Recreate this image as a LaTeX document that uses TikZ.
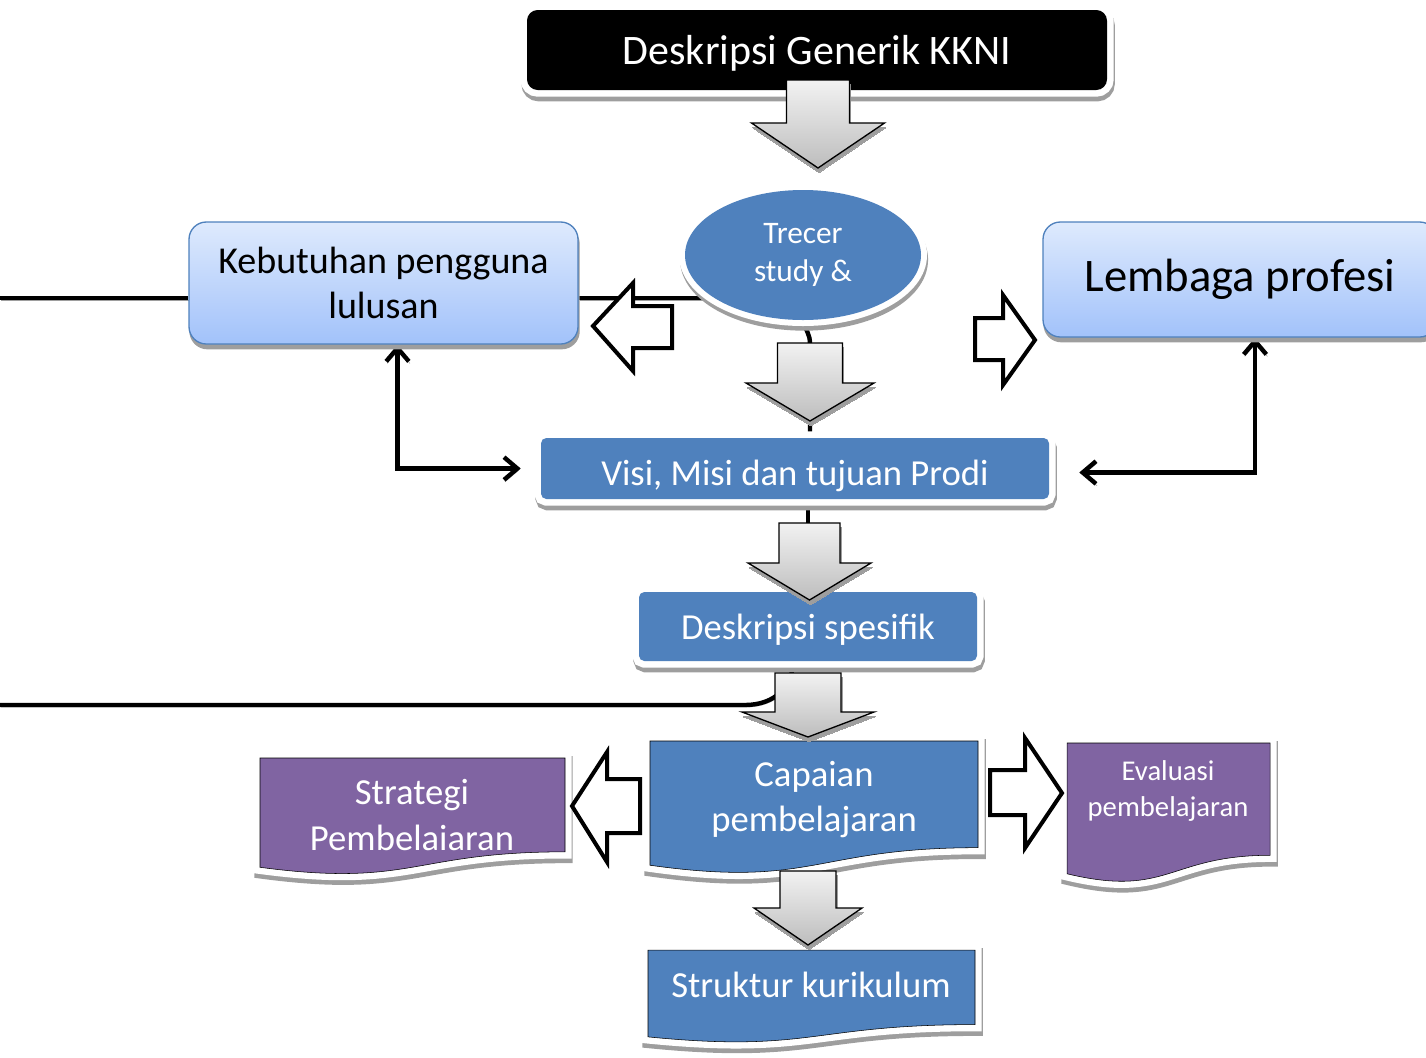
\documentclass[tikz,border=0pt]{standalone}
\usepackage{fontspec}
\setmainfont{Carlito}
\usetikzlibrary{arrows.meta,positioning,calc,shapes.geometric,backgrounds}
\definecolor{boxblue}{HTML}{4F81BD}
\definecolor{boxpurple}{HTML}{8064A2}
\definecolor{paleblue}{HTML}{DEEAFD}
\definecolor{lightblue}{HTML}{A2C2FA}
\definecolor{shadegrey}{HTML}{9E9E9E}
\definecolor{arrowlight}{HTML}{F2F2F2}
\definecolor{arrowdark}{HTML}{BDBDBD}
\tikzset{
  dropshade/.style={preaction={draw=shadegrey,fill=shadegrey,line width=#1,transform canvas={xshift=0.8pt,yshift=-3.5pt}}},
  whiteframe/.style={dropshade=#1,preaction={draw=white,line width=#1}},
  bluebox/.style={whiteframe=10pt,fill=boxblue,text=white,rounded corners=4pt,inner sep=0pt},
  gradbox/.style={dropshade=1pt,draw=boxblue,line width=1pt,top color=paleblue,bottom color=lightblue,rounded corners=13pt,inner sep=0pt,align=center},
  doclabel/.style={text=white,align=center,inner sep=0pt},
  conn/.style={line width=3.3pt,preaction={draw=shadegrey,transform canvas={xshift=0.8pt,yshift=-1.5pt}}},
  twoway/.style={conn,{Straight Barb[length=10pt,width=17pt]}-{Straight Barb[length=10pt,width=17pt]}},
  greyarrow/.style={top color=arrowlight,bottom color=arrowdark,draw=black,line width=1pt,dropshade=0pt},
  hollowarrow/.style={draw=black,fill=white,line width=3pt},
}

\begin{document}
\begin{tikzpicture}[x=0.75pt,y=-0.75pt]
  \useasboundingbox (0,0) rectangle (1426,1057);
  \node[bluebox,fill=black,rounded corners=8pt,minimum width=435pt,minimum height=60pt,text height=24pt,text depth=3pt,font=\fontsize{31.5}{38}\selectfont] (kkni) at (817,50) {Deskripsi Generik KKNI};
  \node[ellipse,whiteframe=9pt,fill=boxblue,text=white,inner sep=0pt,minimum width=177pt,minimum height=97.5pt,align=center,font=\fontsize{23.5}{29}\selectfont] (trecer) at (803,255) {Trecer\\study \&};
  \node[gradbox,minimum width=291.75pt,minimum height=91.5pt,font=\fontsize{28.5}{33.75}\selectfont] (keb) at (383.5,283) {Kebutuhan pengguna\\lulusan};
  \node[gradbox,minimum width=295.5pt,minimum height=86.25pt,font=\fontsize{35}{42}\selectfont] (lemb) at (1240,279.5) {Lembaga profesi};
  \node[bluebox,minimum width=381pt,minimum height=45.75pt,text height=26pt,text depth=0pt,font=\fontsize{27.5}{34}\selectfont] (visi) at (795,468.5) {Visi, Misi dan tujuan Prodi};
  \node[bluebox,minimum width=253.5pt,minimum height=51.75pt,text height=20pt,text depth=0pt,font=\fontsize{27.5}{34}\selectfont] (desk) at (808,626.5) {Deskripsi spesifik};
  \node[doclabel,font=\fontsize{27.5}{34.5}\selectfont] (strat) at (412,815) {Strategi\\Pembelaiaran};
  \node[doclabel,font=\fontsize{27.5}{33.75}\selectfont] (cap) at (814,800) {Capaian\\pembelajaran};
  \node[doclabel,font=\fontsize{21.5}{27}\selectfont] (eval) at (1168,791) {Evaluasi\\pembelajaran};
  \node[doclabel,font=\fontsize{27.5}{34}\selectfont] (struk) at (811,985) {Struktur kurikulum};
  \coordinate (edgeA) at (0,298);
  \coordinate (edgeB) at (0,705);

  \begin{scope}[on background layer]
    \draw[conn] (edgeA) -- (edgeA -| keb.west);
    \draw[conn] (edgeA -| keb.east) -- (edgeA -| trecer.center);
    \draw[conn] (trecer.south) .. controls +(3,12) and +(0,-12) .. ($(visi.north)+(15,-93)$) -- ($(visi.north)+(15,0)$);
    \draw[conn] (desk.north |- visi.south) -- (desk.north);
    \draw[conn] (edgeB) -- ++(745,0) .. controls +(30,0) and +(0,25) .. ($(desk.south)+(-15,0)$);
    \draw[twoway] ($(keb.south)+(14,0)$) |- ($(visi.west)+(-20,0)$);
    \draw[twoway] ($(lemb.south)+(15,0)$) |- ($(visi.east)+(30,4)$);
    \foreach \x/\y/\w/\h/\c in {260/758/305/117/boxpurple, 650/741/328/133/boxblue,
                                1067/743/203/140/boxpurple, 648/950/327/93/boxblue}
      \draw[whiteframe=10pt,fill=\c] (\x,\y) -- ({\x+\w},\y) -- ({\x+\w},{\y+0.802*\h})
        .. controls ({\x+0.5*\w},{\y+0.802*\h}) and ({\x+0.5*\w},{\y+1.108*\h}) .. (\x,{\y+0.934*\h}) -- cycle;
  \end{scope}

  \foreach \cx/\ya/\yb/\yc/\sw/\hw in {818/80/123/168/31.5/66.5, 810/343/383/421/32.5/64, 809.5/523/563/600/30.5/61.5,
                                       808/673/712/737/33/66, 808/871/908/945/28/54}
    \draw[greyarrow] ({\cx-\sw},\ya) -- ({\cx+\sw},\ya) -- ({\cx+\sw},\yb) -- ({\cx+\hw},\yb) -- (\cx,\yc)
      -- ({\cx-\hw},\yb) -- ({\cx-\sw},\yb) -- cycle;
  \foreach \xa/\xb/\xc/\ym/\ya/\yb/\yc/\yd in {672/633/593/326/306/348/283/371, 975/1003/1035/340/318/360/295/385,
                                               640/607/572/806/779/833/752/862, 990/1025/1062/793/770/815/738/848}
    \draw[hollowarrow] (\xa,\ya) -- (\xb,\ya) -- (\xb,\yc) -- (\xc,\ym) -- (\xb,\yd) -- (\xb,\yb) -- (\xa,\yb) -- cycle;
\end{tikzpicture}
\end{document}
